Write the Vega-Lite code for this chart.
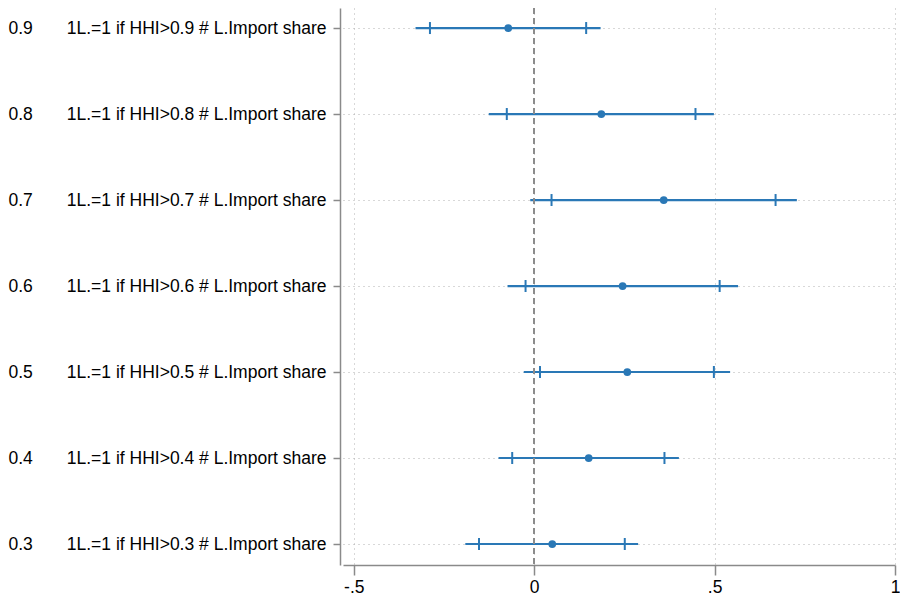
{
  "$schema": "https://vega.github.io/schema/vega-lite/v6.json",
  "autosize": {"type": "none"},
  "padding": {"left": 343, "top": 8, "right": 5, "bottom": 31},
  "width": 552,
  "height": 557,
  "background": "white",
  "config": {
    "view": {"stroke": null},
    "font": "Liberation Sans",
    "axis": {"labelFont": "Liberation Sans", "labelColor": "black", "labelFontSize": 17.5, "labelLimit": 0}
  },
  "data": {
    "values": [
      {"hhi": 0.9, "b": -0.072, "lo95": -0.329, "lo90": -0.289, "hi90": 0.144, "hi95": 0.184},
      {"hhi": 0.8, "b": 0.186, "lo95": -0.126, "lo90": -0.076, "hi90": 0.447, "hi95": 0.498},
      {"hhi": 0.7, "b": 0.359, "lo95": -0.011, "lo90": 0.048, "hi90": 0.669, "hi95": 0.728},
      {"hhi": 0.6, "b": 0.245, "lo95": -0.074, "lo90": -0.024, "hi90": 0.514, "hi95": 0.565},
      {"hhi": 0.5, "b": 0.258, "lo95": -0.029, "lo90": 0.016, "hi90": 0.498, "hi95": 0.543},
      {"hhi": 0.4, "b": 0.151, "lo95": -0.099, "lo90": -0.061, "hi90": 0.361, "hi95": 0.401},
      {"hhi": 0.3, "b": 0.050, "lo95": -0.191, "lo90": -0.153, "hi90": 0.251, "hi95": 0.288}
    ]
  },
  "resolve": {"axis": {"y": "independent"}},
  "layer": [
    {
      "mark": {"type": "rule", "color": "#2a78b6", "strokeWidth": 2.2},
      "encoding": {
        "x": {
          "field": "lo95", "type": "quantitative",
          "scale": {"domain": [-0.53, 1], "nice": false, "zero": false},
          "axis": {
            "title": null, "values": [-0.5, 0, 0.5, 1],
            "labelExpr": "datum.value == -0.5 ? '-.5' : datum.value == 0.5 ? '.5' : datum.value == 0 ? '0' : '1'",
            "domainColor": "#8a8a8a", "domainWidth": 1.5, "tickColor": "#8a8a8a", "tickWidth": 1.5, "tickSize": 10,
            "labelPadding": 3, "labelFlush": false,
            "grid": true, "gridDash": [1, 4], "gridColor": "#b0b0b0", "gridWidth": 1
          }
        },
        "x2": {"field": "hi95"},
        "y": {
          "field": "hhi", "type": "quantitative",
          "scale": {"domain": [0.2756, 0.9233], "nice": false, "zero": false},
          "axis": {
            "title": null, "values": [0.3, 0.4, 0.5, 0.6, 0.7, 0.8, 0.9],
            "labelExpr": "'1L.=1 if HHI>' + format(datum.value, '.1f') + ' # L.Import share'",
            "offset": 3, "tickSize": 7, "labelPadding": 7,
            "domainColor": "#8a8a8a", "domainWidth": 1.5, "tickColor": "#8a8a8a", "tickWidth": 1.5,
            "grid": true, "gridDash": [1, 4], "gridColor": "#b0b0b0", "gridWidth": 1
          }
        }
      }
    },
    {
      "mark": {"type": "rule", "color": "#8c8c8c", "strokeWidth": 1.5, "strokeDash": [6, 4]},
      "encoding": {
        "x": {"datum": 0, "type": "quantitative"}
      }
    },
    {
      "mark": {"type": "tick", "orient": "vertical", "color": "#2a78b6", "thickness": 2, "size": 12, "opacity": 1},
      "encoding": {
        "x": {"field": "lo90", "type": "quantitative"},
        "y": {"field": "hhi", "type": "quantitative", "axis": null}
      }
    },
    {
      "mark": {"type": "tick", "orient": "vertical", "color": "#2a78b6", "thickness": 2, "size": 12, "opacity": 1},
      "encoding": {
        "x": {"field": "hi90", "type": "quantitative"},
        "y": {"field": "hhi", "type": "quantitative", "axis": null}
      }
    },
    {
      "mark": {"type": "point", "filled": true, "shape": "circle", "color": "#2a78b6", "size": 60, "opacity": 1},
      "encoding": {
        "x": {"field": "b", "type": "quantitative"},
        "y": {
          "field": "hhi", "type": "quantitative",
          "axis": {
            "orient": "left", "title": null, "values": [0.3, 0.4, 0.5, 0.6, 0.7, 0.8, 0.9],
            "labelExpr": "format(datum.value, '.1f')",
            "offset": 325, "labelPadding": 10, "labelAlign": "left",
            "domain": false, "ticks": false, "grid": false
          }
        }
      }
    }
  ]
}
